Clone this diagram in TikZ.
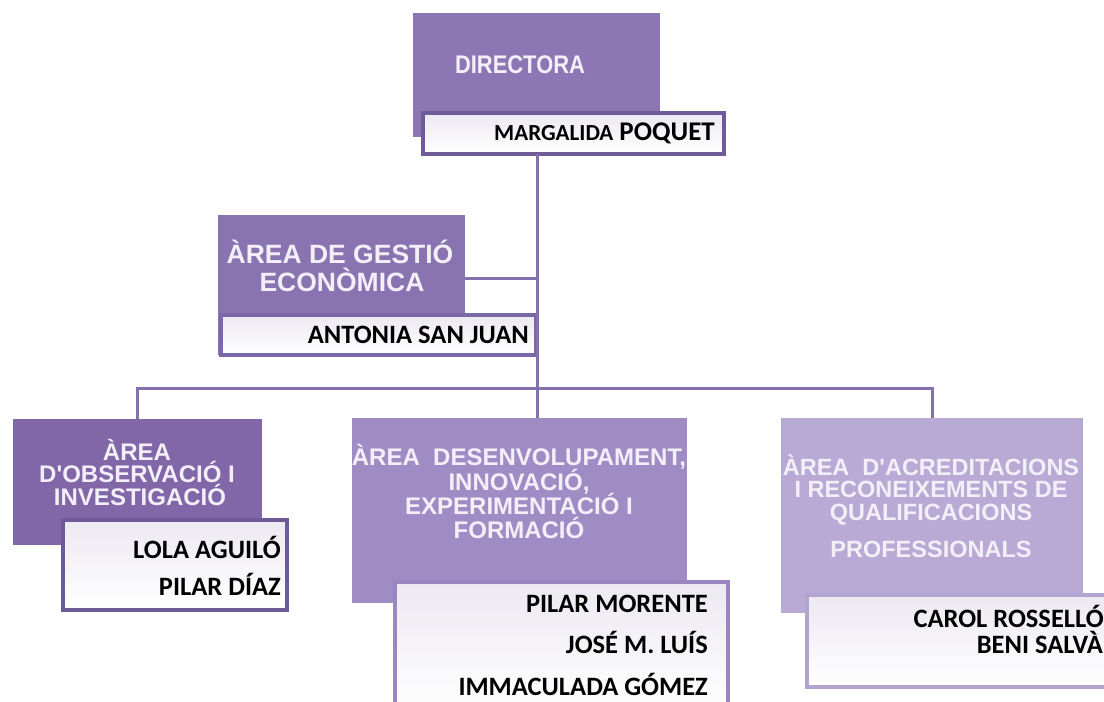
\documentclass[tikz,border=0pt]{standalone}
\usepackage{fontspec}
\newfontfamily\hfont{Liberation Sans}
\newfontfamily\nfont{Carlito}
\definecolor{cDir}{HTML}{8C76B4}
\definecolor{cEco}{HTML}{8A73B1}
\definecolor{cObs}{HTML}{8166A8}
\definecolor{cDes}{HTML}{A08CC5}
\definecolor{cAcr}{HTML}{B8AAD4}
\definecolor{cLine}{HTML}{8470AC}
\definecolor{bDir}{HTML}{6F5B98}
\definecolor{bEco}{HTML}{7C68A8}
\definecolor{bObs}{HTML}{6E5A96}
\definecolor{bDes}{HTML}{9A87C1}
\definecolor{bAcr}{HTML}{B2A4CF}
\definecolor{cHText}{HTML}{F3EFF8}
\definecolor{cTop}{HTML}{ECE9F1}
\tikzset{
  headbox/.style={draw=none, inner sep=0pt, outer sep=0pt, rectangle},
  namebox/.style={line width=3.5pt, inner sep=0pt, outer sep=0pt, rectangle,
    top color=cTop, bottom color=white},
  htext/.style={inner sep=0pt, anchor=base, text=cHText, font=\hfont\bfseries\fontsize{24}{24}\selectfont},
  ntext/.style={inner sep=0pt, anchor=base east, text=black, font=\nfont\bfseries\fontsize{26.5}{26.5}\selectfont},
  conn/.style={draw=cLine, line width=3pt}
}
\begin{document}
\begin{tikzpicture}[x=1pt,y=-1pt]
\clip (0,0) rectangle (1104,702);
\fill[white] (0,0) rectangle (1104,702);
% header boxes
\node[headbox, fill=cDir, minimum width=247pt, minimum height=124pt] (dirhead) at (536.5,75) {};
\node[headbox, fill=cEco, minimum width=247pt, minimum height=140pt] (ecohead) at (341.5,285) {};
\node[headbox, fill=cObs, minimum width=249pt, minimum height=126pt] (obshead) at (137.5,482) {};
\node[headbox, fill=cDes, minimum width=335pt, minimum height=185pt] (deshead) at (519.5,510.5) {};
\node[headbox, fill=cAcr, minimum width=302pt, minimum height=195pt] (acrhead) at (932,515.5) {};
% name boxes
\node[namebox, draw=bDir, minimum width=301pt, minimum height=41pt] (dirname) at (573.5,133.5) {};
\node[namebox, draw=bEco, minimum width=315pt, minimum height=40pt] (econame) at (378.5,335) {};
\node[namebox, draw=bObs, minimum width=224pt, minimum height=90pt] (obsname) at (175,565) {};
\node[namebox, draw=bDes, minimum width=333pt, minimum height=130pt] (desname) at (561.5,647) {};
\node[namebox, draw=bAcr, minimum width=308pt, minimum height=92pt] (acrname) at (961,641) {};
% junction coordinates
\coordinate (jbar) at (537,388);
\coordinate (jeco) at (537,278);
% connectors
\draw[conn] (dirname.south -| jbar) -- (jbar);
\draw[conn] (ecohead.east |- jeco) -- (jeco);
\draw[conn] (obshead.north) -- (obshead.north |- jbar) -- (acrhead.north |- jbar) -- (acrhead.north);
\draw[conn] (jbar) -- (deshead.north -| jbar);
% header texts
\node[htext, font=\hfont\bfseries\fontsize{25.5}{25.5}\selectfont] (t1) at (520,73) {\scalebox{0.86}[1]{DIRECTORA}};
\node[htext, font=\hfont\bfseries\fontsize{26.5}{26.5}\selectfont] (t2a) at (340,263) {ÀREA DE GESTIÓ};
\node[htext, font=\hfont\bfseries\fontsize{26.5}{26.5}\selectfont] (t2b) at (342,291) {ECONÒMICA};
\node[htext] (t3a) at (137,460) {ÀREA};
\node[htext] (t3b) at (137,482) {D'OBSERVACIÓ I};
\node[htext] (t3c) at (140,505) {INVESTIGACIÓ};
\node[htext] (t4a) at (519,465) {ÀREA\ \ DESENVOLUPAMENT,};
\node[htext] (t4b) at (519,490) {INNOVACIÓ,};
\node[htext] (t4c) at (519,514) {EXPERIMENTACIÓ I};
\node[htext] (t4d) at (519,538) {FORMACIÓ};
\node[htext, font=\hfont\bfseries\fontsize{23.5}{23.5}\selectfont] (t5a) at (931,475) {ÀREA\ \ D'ACREDITACIONS};
\node[htext, font=\hfont\bfseries\fontsize{23.5}{23.5}\selectfont] (t5b) at (931,497) {I RECONEIXEMENTS DE};
\node[htext, font=\hfont\bfseries\fontsize{23.5}{23.5}\selectfont] (t5c) at (931,520) {QUALIFICACIONS};
\node[htext, font=\hfont\bfseries\fontsize{23.5}{23.5}\selectfont] (t5d) at (931,557) {PROFESSIONALS};
% name texts
\node[ntext, font=\nfont\bfseries\fontsize{27}{27}\selectfont] (n1) at (715,140) {{\fontsize{23}{23}\selectfont MARGALIDA} POQUET};
\node[ntext] (n2) at (529,343) {ANTONIA SAN JUAN};
\node[ntext] (n3) at (281,558) {LOLA AGUILÓ};
\node[ntext] (n4) at (281,595) {PILAR DÍAZ};
\node[ntext] (n5) at (708,612) {PILAR MORENTE};
\node[ntext] (n6) at (708,653) {JOSÉ M. LUÍS};
\node[ntext] (n7) at (708,695) {IMMACULADA GÓMEZ};
\node[ntext] (n8) at (1104,627) {CAROL ROSSELLÓ};
\node[ntext] (n9) at (1103,653) {BENI SALVÀ};
\end{tikzpicture}
\end{document}
